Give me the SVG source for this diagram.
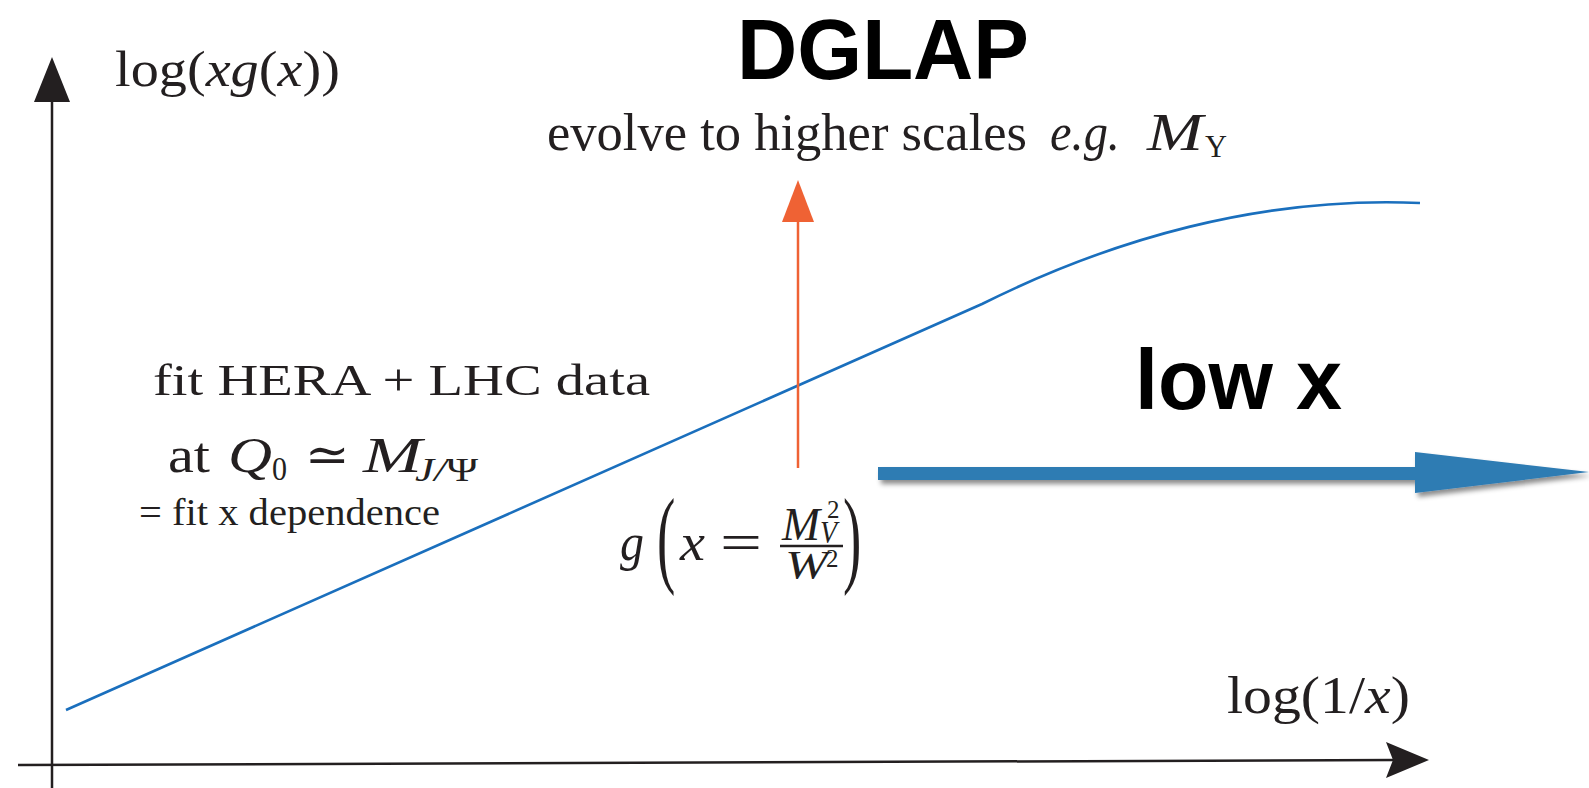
<svg xmlns="http://www.w3.org/2000/svg" width="1589" height="788" viewBox="0 0 1589 788">
<style>
.cm{font-family:"Liberation Serif","DejaVu Serif",serif;fill:#231f20}
.it{font-style:italic}
.bold{font-family:"Liberation Sans",Arial,sans-serif;font-weight:bold;fill:#000}
.axis{stroke:#231f20;stroke-width:2.5;fill:none}
.axhead{fill:#231f20}
.curve{stroke:#1a6fbd;stroke-width:2.6;fill:none}
.orange{stroke:#ef6234;stroke-width:2.5;fill:none}
</style>
<defs>
<filter id="shadow" x="-5%" y="-50%" width="110%" height="200%">
<feDropShadow dx="3" dy="4" stdDeviation="2.5" flood-color="#000" flood-opacity="0.45"/>
</filter>
</defs>
<rect width="1589" height="788" fill="#fff"/>

<g id="connectors">
<g id="y-axis">
<line class="axis" x1="52" y1="95" x2="52" y2="788"/>
<polygon class="axhead" points="52,57 70,102 34,102"/>
</g>
<g id="x-axis">
<line class="axis" x1="18" y1="765" x2="1395" y2="760"/>
<polygon class="axhead" points="1429,760 1386,742 1393,760 1386,778"/>
</g>
<path id="gluon-curve" class="curve" d="M66,710 L982,304 C1110,240 1260,196 1420,203"/>
<g id="dglap-arrow">
<line class="orange" x1="798" y1="468" x2="798" y2="215"/>
<polygon fill="#ef6234" points="798,180 814,222 782,222"/>
</g>
<polygon id="lowx-arrow" filter="url(#shadow)" fill="#2e7bb3" points="878,467 1415,467 1415,452 1589,472 1415,493 1415,480 878,480"/>
</g>

<g id="ylabel">
<text class="cm" x="115" y="86" font-size="50" textLength="225" lengthAdjust="spacingAndGlyphs">log(<tspan class="it">xg</tspan>(<tspan class="it">x</tspan>))</text>
</g>

<g id="dglap">
<text class="bold" x="737" y="79" font-size="85" textLength="292" lengthAdjust="spacingAndGlyphs">DGLAP</text>
<text class="cm" x="547" y="150" font-size="52" textLength="480" lengthAdjust="spacingAndGlyphs">evolve to higher scales</text>
<text class="cm it" x="1050" y="150" font-size="52" textLength="70" lengthAdjust="spacingAndGlyphs">e.g.</text>
<text class="cm it" x="1147" y="150" font-size="52" textLength="56" lengthAdjust="spacingAndGlyphs">M</text>
<text class="cm" x="1205" y="157" font-size="32" textLength="22" lengthAdjust="spacingAndGlyphs">Υ</text>
</g>

<g id="fit">
<text class="cm" x="153" y="395" font-size="45" textLength="497" lengthAdjust="spacingAndGlyphs">fit HERA + LHC data</text>
<text class="cm" x="168" y="472" font-size="50" textLength="42" lengthAdjust="spacingAndGlyphs">at</text>
<text class="cm it" x="228" y="472" font-size="50" textLength="44" lengthAdjust="spacingAndGlyphs">Q</text>
<text class="cm" x="272" y="480" font-size="34" textLength="15" lengthAdjust="spacingAndGlyphs">0</text>
<text class="cm" x="305" y="472" font-size="50" textLength="45" lengthAdjust="spacingAndGlyphs">≃</text>
<text class="cm it" x="363" y="472" font-size="50" textLength="59" lengthAdjust="spacingAndGlyphs">M</text>
<text class="cm" x="415" y="481" font-size="34" textLength="63" lengthAdjust="spacingAndGlyphs"><tspan class="it">J/</tspan>Ψ</text>
<text class="cm" x="139" y="525" font-size="37" textLength="301" lengthAdjust="spacingAndGlyphs">= fit x dependence</text>
</g>

<g id="formula">
<text class="cm it" x="620" y="560" font-size="52" textLength="24" lengthAdjust="spacingAndGlyphs">g</text>
<text class="cm" font-size="55" transform="translate(657,573) scale(1,1.98)">(</text>
<text class="cm it" x="680" y="560" font-size="52" textLength="25" lengthAdjust="spacingAndGlyphs">x</text>
<text class="cm" x="720" y="560" font-size="52" textLength="42" lengthAdjust="spacingAndGlyphs">=</text>
<text class="cm it" x="782" y="540" font-size="46" textLength="38" lengthAdjust="spacingAndGlyphs">M</text>
<text class="cm" x="827" y="518" font-size="25">2</text>
<text class="cm it" x="820" y="543" font-size="32" textLength="17" lengthAdjust="spacingAndGlyphs">V</text>
<line x1="780" y1="546" x2="843" y2="546" stroke="#231f20" stroke-width="2.5"/>
<text class="cm it" x="785" y="578" font-size="40" textLength="43" lengthAdjust="spacingAndGlyphs">W</text>
<text class="cm" x="826" y="567" font-size="25">2</text>
<text class="cm" font-size="55" transform="translate(843,573) scale(1,1.98)">)</text>
</g>

<g id="lowx">
<text class="bold" x="1135" y="409" font-size="85" textLength="207" lengthAdjust="spacingAndGlyphs">low x</text>
</g>

<g id="xlabel">
<text class="cm" x="1227" y="713" font-size="52" textLength="183" lengthAdjust="spacingAndGlyphs">log(1/<tspan class="it">x</tspan>)</text>
</g>
</svg>
